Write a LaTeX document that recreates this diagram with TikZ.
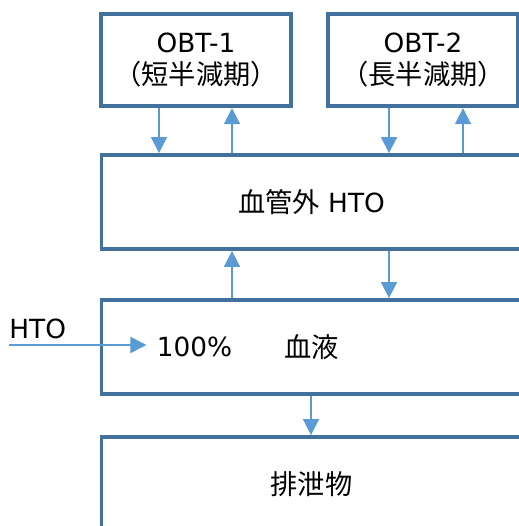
\documentclass[tikz,border=0pt]{standalone}
\usepackage{fontspec}
\setmainfont{DejaVu Sans}
\newfontfamily\jpfont{Noto Sans CJK JP}
\definecolor{BoxEdge} {RGB}{65, 113, 156}
\definecolor{FlowBlue}{RGB}{91, 155, 213}
\usetikzlibrary{arrows.meta}

\begin{document}
\begin{tikzpicture}[
  x=0.02cm, y=0.02cm,
  font=\fontsize{15pt}{18.2pt}\selectfont,
  box/.style={
    draw=BoxEdge, line width=2.2pt,
    fill=white, align=center,
    inner sep=0pt
  },
  pool/.style={box,
    minimum width=3.8cm,
    minimum height=1.85cm},
  wide/.style={box,
    minimum width=8.4cm,
    minimum height=1.88cm},
  flow/.style={
    -{Triangle[length=0.32cm, width=0.32cm]},
    line width=1pt,
    color=FlowBlue},
  note/.style={inner sep=0pt}
]
\useasboundingbox (0,0) rectangle (519,526);
\clip (0,0) rectangle (519,526);

% compartments
\node[pool] (obt1) at (196,466)
  {OBT-1\\{\jpfont\fontsize{15.5pt}{18.2pt}\selectfont （短半減期）}};
\node[pool] (obt2) at (423,466)
  {OBT-2\\{\jpfont\fontsize{15.5pt}{18.2pt}\selectfont （長半減期）}};
\node[wide] (ev) at (311.5,324)
  {{\jpfont\fontsize{15.5pt}{18.2pt}\selectfont 血管外} HTO};
\node[wide] (blood) at (311.5,179)
  {{\jpfont\fontsize{15.5pt}{18.2pt}\selectfont 血液}};
\node[wide] (excr) at (311.5,42)
  {{\jpfont\fontsize{15.5pt}{18.2pt}\selectfont 排泄物}};

% intake
\coordinate (src) at (9,181);
\node[note, anchor=base west] (htolbl)
  at ([yshift=0.12cm]src) {HTO};
\node[note, inner xsep=0.2cm] (pct)
  at (194.5,179) {100\%};

% exchanges
\draw[flow] (obt1.south -| 159,0) -- (ev.north -| 159,0);
\draw[flow] (ev.north -| 232,0) -- (obt1.south -| 232,0);
\draw[flow] (obt2.south -| 389,0) -- (ev.north -| 389,0);
\draw[flow] (ev.north -| 463,0) -- (obt2.south -| 463,0);
\draw[flow] (blood.north -| 232,0) -- (ev.south -| 232,0);
\draw[flow] (ev.south -| 389,0) -- (blood.north -| 389,0);
\draw[flow] (blood.south -| 311,0) -- (excr.north -| 311,0);
\draw[flow] (src) -- (pct.west |- src);
\end{tikzpicture}
\end{document}
